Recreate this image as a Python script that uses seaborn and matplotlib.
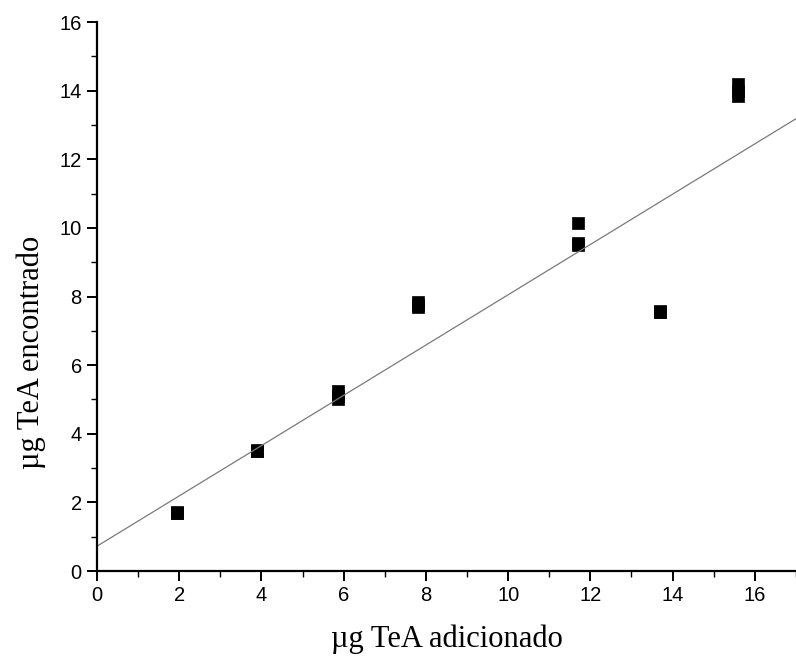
import matplotlib
matplotlib.use("Agg")
import matplotlib.pyplot as plt
from matplotlib.ticker import MultipleLocator
import numpy as np
import pandas as pd
import seaborn as sns

# Added amount (three replicates per level) and amount recovered
added = [1.95, 1.95, 1.95,
         3.9, 3.9, 3.9,
         5.85, 5.85, 5.85,
         7.8, 7.8, 7.8,
         11.7, 11.7, 11.7,
         13.7, 13.7, 13.7,
         15.6, 15.6, 15.6]
found = [1.7, 1.7, 1.72,
         3.5, 3.5, 3.52,
         5.25, 5.1, 5.0,
         7.85, 7.75, 7.7,
         10.15, 9.55, 9.5,
         7.55, 7.55, 7.57,
         14.2, 14.0, 13.85]

df = pd.DataFrame({"added": added, "found": found})

sns.set_theme(style="ticks")
fig = plt.figure(figsize=(7.96, 6.6), dpi=100)
ax = fig.add_axes([0.1219, 0.1348, 0.878, 0.8318])
ax.set_xlim(0, 17)
ax.set_ylim(0, 16)

sns.regplot(data=df, x="added", y="found", ax=ax, ci=None, truncate=False,
            marker="s",
            scatter_kws={"s": 75, "color": "black", "edgecolors": "black", "linewidths": 0.5, "alpha": 1},
            line_kws={"color": "#7a7a7a", "linewidth": 0.9})

ax.set_xlim(0, 17)
ax.set_ylim(0, 16)
sns.despine(ax=ax)
for s in ("left", "bottom"):
    ax.spines[s].set_linewidth(1.6)
    ax.spines[s].set_color("black")

ax.xaxis.set_major_locator(MultipleLocator(2))
ax.xaxis.set_minor_locator(MultipleLocator(1))
ax.yaxis.set_major_locator(MultipleLocator(2))
ax.yaxis.set_minor_locator(MultipleLocator(1))
ax.tick_params(which="major", direction="out", length=7, width=1.4, color="black",
               labelsize=14.5, labelcolor="black", pad=4)
ax.tick_params(which="minor", direction="out", length=4, width=1.0, color="black")
for lab in ax.get_xticklabels() + ax.get_yticklabels():
    lab.set_family("Liberation Sans")

ax.set_xlabel("µg TeA adicionado", family="Liberation Serif", fontsize=22, color="black", labelpad=14)
ax.set_ylabel("µg TeA encontrado", family="Liberation Serif", fontsize=22, color="black")
ax.yaxis.set_label_coords(-0.073, 0.399)

fig.savefig("out.png", dpi=100)
